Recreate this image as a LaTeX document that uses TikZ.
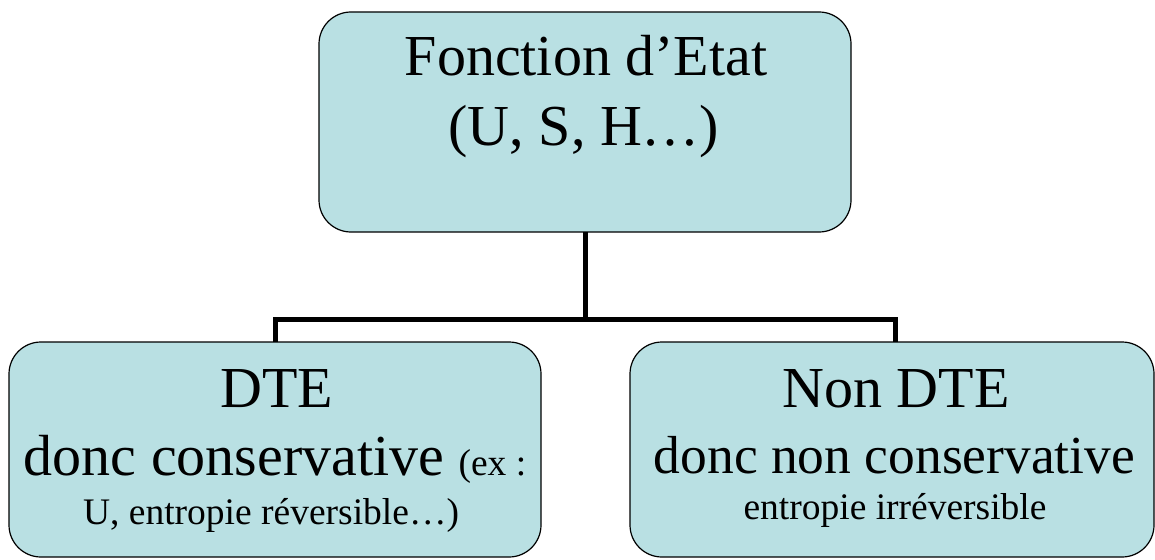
\documentclass[tikz,border=0pt]{standalone}
\usepackage{fontspec}
\setmainfont{Liberation Serif}
\definecolor{boxfill}{RGB}{185,224,227}
\tikzset{
  stage/.style={draw=black, line width=1.2pt, fill=boxfill, rounded corners=32pt,
                inner sep=0pt, outer sep=0pt},
  big/.style={anchor=base, inner sep=0pt, font=\fontsize{58}{69}\selectfont},
  small/.style={anchor=base, inner sep=0pt, font=\fontsize{37.5}{45}\selectfont},
  link/.style={line width=5pt}
}
\begin{document}
\begin{tikzpicture}[x=1pt,y=1pt]
  \useasboundingbox (0,0) rectangle (1155,-559);

  % boxes
  \node[stage, minimum width=532pt, minimum height=220pt] (top) at (585,-122) {};
  \node[stage, minimum width=532pt, minimum height=215pt] (left) at (275,-449.5) {};
  \node[stage, minimum width=524pt, minimum height=215pt] (right) at (892,-449.5) {};

  % connectors
  \coordinate (fork) at (585,-319);
  \coordinate (rdrop) at ([xshift=3pt]right.north);
  \draw[link] (top.south) -- (fork);
  \draw[link] (left.north) |- (fork) -| (rdrop);

  % texts of the top box
  \node[big] (t1) at (586,-76) {Fonction d’Etat};
  \node[big] (t2) at (584,-145) {(U, S, H…)};

  % texts of the left box
  \node[big] (l1) at (277,-407) {DTE};
  \node[big] (l2) at (275,-475) {donc conservative {\fontsize{37.5}{45}\selectfont (ex :}};
  \node[small] (l3) at (271,-524) {U, entropie réversible…)};

  % texts of the right box
  \node[big] (r1) at (896,-407) {Non DTE};
  \node[big, font=\fontsize{53.5}{64}\selectfont] (r2) at (894.5,-473) {donc non conservative};
  \node[small] (r3) at (895,-519) {entropie irréversible};
\end{tikzpicture}
\end{document}
